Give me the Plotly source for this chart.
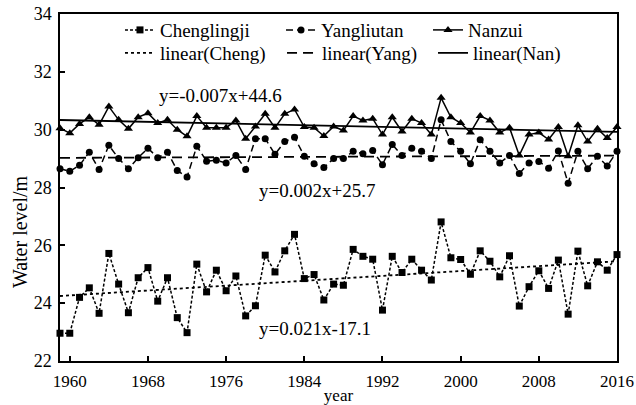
import numpy as np
import plotly.graph_objects as go

years = list(range(1959, 2017))

chenglingji = [22.96, 22.96, 24.20, 24.53, 23.65, 25.72, 24.66, 23.67, 24.88, 25.23,
               24.07, 24.88, 23.50, 22.98, 25.35, 24.39, 25.14, 24.43, 24.94, 23.56,
               23.91, 25.66, 25.08, 25.81, 26.38, 24.85, 24.99, 24.11, 24.66, 24.62,
               25.86, 25.62, 25.52, 23.76, 25.62, 25.06, 25.52, 25.14, 24.80, 26.81,
               25.57, 25.51, 25.00, 25.81, 25.45, 24.91, 25.64, 23.90, 24.57, 25.12,
               24.51, 25.49, 23.62, 25.80, 24.60, 25.43, 25.14, 25.68]

yangliutan = [28.65, 28.56, 28.77, 29.22, 28.62, 29.46, 29.00, 28.65, 29.03, 29.36,
              29.03, 29.22, 28.59, 28.36, 29.43, 28.91, 28.94, 28.85, 29.11, 28.62,
              29.69, 29.69, 29.15, 29.59, 29.74, 29.08, 28.82, 28.69, 29.00, 29.00,
              29.25, 29.17, 29.28, 28.79, 29.49, 29.11, 29.36, 29.25, 29.00, 30.34,
              29.59, 29.25, 28.82, 29.65, 29.25, 28.85, 29.11, 28.48, 28.85, 28.90,
              28.67, 29.26, 28.15, 29.25, 28.65, 29.08, 28.74, 29.25]

nanzui = [30.05, 29.88, 30.20, 30.43, 30.17, 30.80, 30.34, 30.03, 30.43, 30.57,
          30.23, 30.34, 30.00, 29.77, 30.47, 30.07, 30.07, 30.07, 30.32, 29.69,
          30.11, 30.55, 30.07, 30.55, 30.70, 30.09, 30.07, 29.78, 30.11, 29.97,
          30.47, 30.32, 30.38, 29.83, 30.43, 29.94, 30.38, 30.23, 29.83, 31.10,
          30.43, 30.23, 29.90, 30.47, 30.32, 29.90, 30.07, 29.11, 29.83, 29.90,
          29.66, 30.09, 29.08, 30.15, 29.59, 30.03, 29.71, 30.09]

series_names = ["Chenglingji", "Yangliutan", "Nanzui"]
trend_names = ["linear(Cheng)", "linear(Yang)", "linear(Nan)"]
equations = ["y=0.021x-17.1", "y=0.002x+25.7", "y=-0.007x+44.6"]

x_ticks = list(range(1960, 2017, 8))
y_ticks = list(range(22, 35, 2))

FONT = "Liberation Serif"
yrs = np.array(years, dtype=float)

def fit(vals):
    k, b = np.polyfit(yrs, np.array(vals), 1)
    return (k * yrs + b).tolist()

fig = go.Figure()

styles = [
    dict(dash="3px,2px", symbol="square", size=7),
    dict(dash="7px,4px", symbol="circle", size=7),
    dict(dash="solid", symbol="triangle-up", size=8),
]
trend_dash = ["3px,3px", "10px,6px", "solid"]
data = [chenglingji, yangliutan, nanzui]

# one legend box per entry so columns sit where the reference puts them
data_legends = ["legend", "legend2", "legend3"]
trend_legends = ["legend4", "legend5", "legend6"]

for name, vals, st, lg in zip(series_names, data, styles, data_legends):
    fig.add_trace(go.Scatter(
        x=years, y=vals, name=name, mode="lines+markers",
        line=dict(color="black", width=1.5, dash=st["dash"]),
        marker=dict(symbol=st["symbol"], size=st["size"], color="black"),
        legend=lg, cliponaxis=False,
    ))

for name, vals, d, lg in zip(trend_names, data, trend_dash, trend_legends):
    fig.add_trace(go.Scatter(
        x=years, y=fit(vals), name=name, mode="lines",
        line=dict(color="black", width=1.8, dash=d),
        legend=lg,
    ))

ann_pos = [(1979.2, 23.14), (1979.2, 27.9), (1968.9, 31.18)]
for txt, (ax, ay) in zip(equations, ann_pos):
    fig.add_annotation(x=ax, y=ay, xref="x", yref="y", text=txt, showarrow=False,
                       xanchor="left", yanchor="middle",
                       font=dict(family=FONT, size=19, color="black"))

# y-axis title (placed lower than centre, as in the reference)
fig.add_annotation(x=-0.072, y=0.374, xref="paper", yref="paper", text="Water level/m",
                   textangle=-90, showarrow=False, xanchor="center", yanchor="middle",
                   font=dict(family=FONT, size=20, color="black"))

axis_common = dict(showline=True, linecolor="black", linewidth=1.5, mirror=True,
                   ticks="inside", ticklen=5, tickwidth=1.5, tickcolor="black",
                   showgrid=False, zeroline=False, automargin=False)

def legend_box(xp, yp):
    return dict(orientation="h", x=xp, y=yp, xanchor="left", yanchor="middle",
                bgcolor="rgba(0,0,0,0)", font=dict(family=FONT, size=19),
                itemwidth=30, tracegroupgap=0)

row1, row2 = 0.951, 0.885
fig.update_layout(
    width=636, height=405,
    margin=dict(l=60, r=19, t=13, b=44),
    paper_bgcolor="white", plot_bgcolor="white",
    font=dict(family=FONT, size=17, color="black"),
    xaxis=dict(range=[1959, 2016], tickvals=x_ticks, ticklabelstandoff=4,
               tickfont=dict(family=FONT, size=17, color="black"),
               title=dict(text="year", font=dict(family=FONT, size=17), standoff=0),
               **axis_common),
    yaxis=dict(range=[22, 34], tickvals=y_ticks, ticklabelstandoff=3,
               tickfont=dict(family=FONT, size=18, color="black"),
               **axis_common),
    legend=legend_box(0.1077, row1),
    legend2=legend_box(0.3968, row1),
    legend3=legend_box(0.6607, row1),
    legend4=legend_box(0.1077, row2),
    legend5=legend_box(0.3986, row2),
    legend6=legend_box(0.6697, row2),
    showlegend=True,
)

fig.write_html("out.html")
